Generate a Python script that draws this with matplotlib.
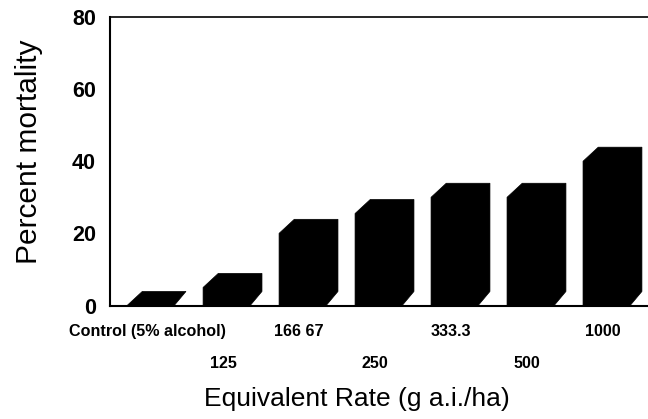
import matplotlib
matplotlib.use('Agg')
import matplotlib.pyplot as plt
from matplotlib.patches import Polygon

plt.rcParams['font.family'] = 'Liberation Sans'

# Values
rate_labels = ['Control (5% alcohol)', '125', '166 67', '250',
  '333.3', '500', '1000']
mortality = [0, 5, 20, 25.5, 30, 30, 40]
y_ticks = [0, 20, 40, 60, 80]

# Bar shape, in axis units
bar_width = 0.62
chamfer_x = 0.2
shift_x = 0.155
shift_y = 3.9

fig = plt.figure(figsize=(6.48, 4.19), dpi=100)
ax = fig.add_axes([110 / 648, 1 - 305.5 / 419, 538 / 648, 288.5 / 419])

for i, value in enumerate(mortality):
  left = i
  right = i + bar_width
  # Front face with the slanted top and the side running back
  outline = [
    (left, 0),
    (left, value),
    (left + chamfer_x, value + shift_y),
    (right + shift_x, value + shift_y),
    (right + shift_x, shift_y),
    (right, 0),
  ]
  ax.add_patch(Polygon(outline, closed=True, facecolor='black',
    edgecolor='black', linewidth=0.5, clip_on=False))

ax.set_xlim(-0.225, 6.855)
ax.set_ylim(0, 80)

ax.set_xticks([])
ax.set_yticks(y_ticks)
ax.tick_params(axis='y', length=0, pad=10, labelsize=15.5)
for tick in ax.get_yticklabels():
  tick.set_fontweight('bold')

ax.spines['right'].set_visible(False)
ax.spines['top'].set_linewidth(1.2)
ax.spines['left'].set_linewidth(1.5)
ax.spines['bottom'].set_linewidth(1.5)

# Rate labels sit on two staggered rows under the axis
for i, label in enumerate(rate_labels):
  row_y = -7.3 if i % 2 == 0 else -16.1
  ax.text(i + 0.265, row_y, label, ha='center', va='center',
    fontsize=11.6, fontweight='bold', clip_on=False)

# Chart Decoration
fig.text(357 / 648, 1 - 399 / 419, 'Equivalent Rate (g a.i./ha)',
  ha='center', va='center', fontsize=19)
fig.text(29 / 648, 1 - 152 / 419, 'Percent mortality', rotation=90,
  ha='center', va='center', fontsize=21.5)

plt.savefig('out.png', dpi=100)
